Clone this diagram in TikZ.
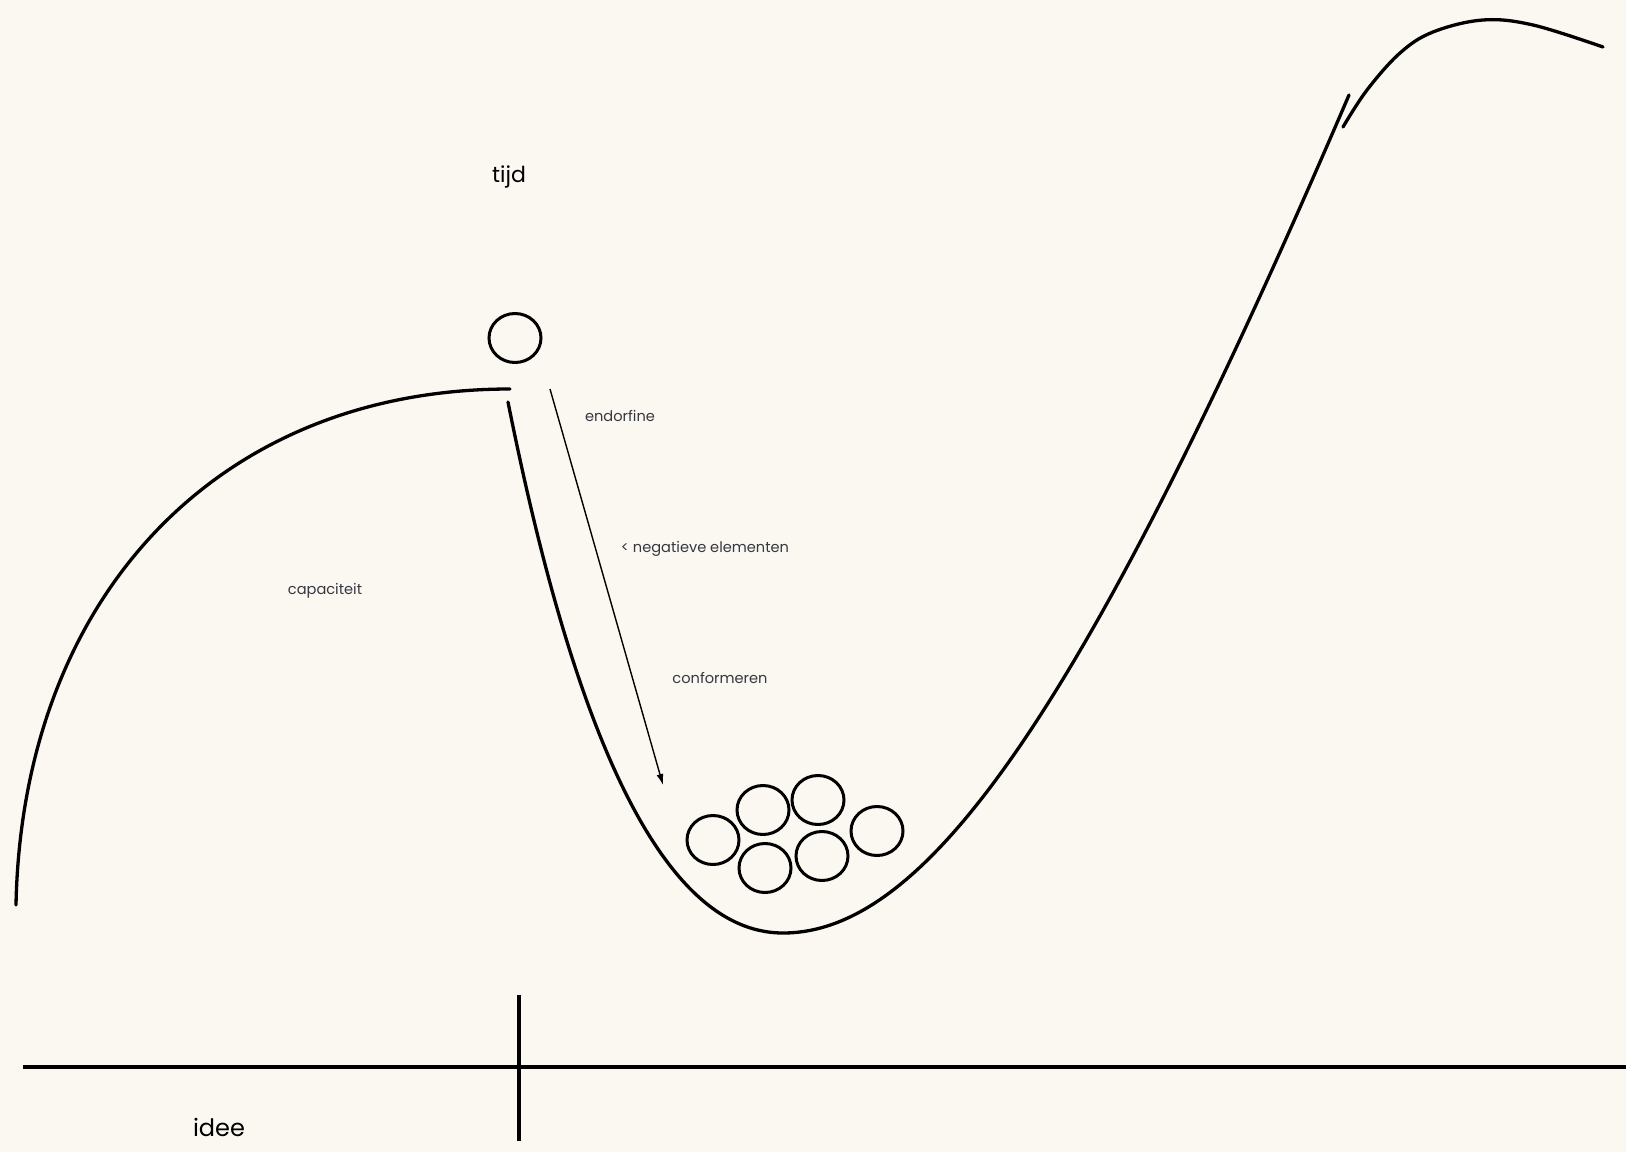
\documentclass[tikz,border=0pt]{standalone}
\usepackage{fontspec}
\setmainfont{Poppins}
\usetikzlibrary{arrows.meta,shapes.geometric}
\definecolor{paper}{RGB}{250,248,241}
\definecolor{ink}{RGB}{0,0,0}
\definecolor{labelgray}{RGB}{55,55,65}
\tikzset{
  curve/.style={draw=ink, line width=3.3pt, line cap=round},
  axisline/.style={draw=ink, line width=3.6pt},
  ball/.style={draw=ink, line width=3pt, ellipse, minimum width=52pt, minimum height=49pt, inner sep=0pt},
  biglabel/.style={font=\fontsize{22}{26}\selectfont, text=ink, inner sep=0pt},
  idlabel/.style={font=\fontsize{24}{28}\selectfont, text=ink, inner sep=0pt},
  smalllabel/.style={font=\fontsize{14.6}{17}\selectfont, text=labelgray, inner sep=0pt},
  flow/.style={draw=ink, line width=1.4pt, -{Latex[length=11pt,width=7pt]}}
}
\begin{document}
\begin{tikzpicture}[x=1pt,y=-1pt]
\fill[paper] (0,0) rectangle (1626,1152);
\useasboundingbox (0,0) rectangle (1626,1152);
% left hill
\draw[curve] (16,905) .. controls (22,600) and (215,389) .. (510,389);
% valley and right rise
\draw[curve] (508,402) .. controls (568,702) and (653,933) .. (783,933)
  .. controls (923,933) and (1079,724) .. (1349,95);
% top right
\draw[curve] plot[smooth, tension=0.6] coordinates {(1343,127) (1367,90) (1400,53) (1433,32) (1483,20) (1533,25) (1603,47)};
% axes
\draw[axisline] (23,1067) -- (1626,1067);
\draw[axisline] (519,995) -- (519,1141);
% balls
\node[ball] (top) at (515,338) {};
\node[ball] (b1) at (713,840) {};
\node[ball] (b2) at (763,810) {};
\node[ball] (b3) at (818,800) {};
\node[ball] (b4) at (877,831) {};
\node[ball] (b5) at (765,868) {};
\node[ball] (b6) at (822,856) {};
% arrow
\coordinate (astart) at (550,389);
\coordinate (aend) at (663,785);
\draw[flow] (astart) -- (aend);
% labels
\node[biglabel] (tijd) at (509,177) {tijd};
\node[idlabel] (idee) at (219,1127) {idee};
\node[smalllabel] (endorfine) at (620,416) {endorfine};
\node[smalllabel] (negatief) at (705,549) {< negatieve elementen};
\node[smalllabel] (conform) at (720,678) {conformeren};
\node[smalllabel] (capaciteit) at (325,591) {capaciteit};
\end{tikzpicture}
\end{document}
